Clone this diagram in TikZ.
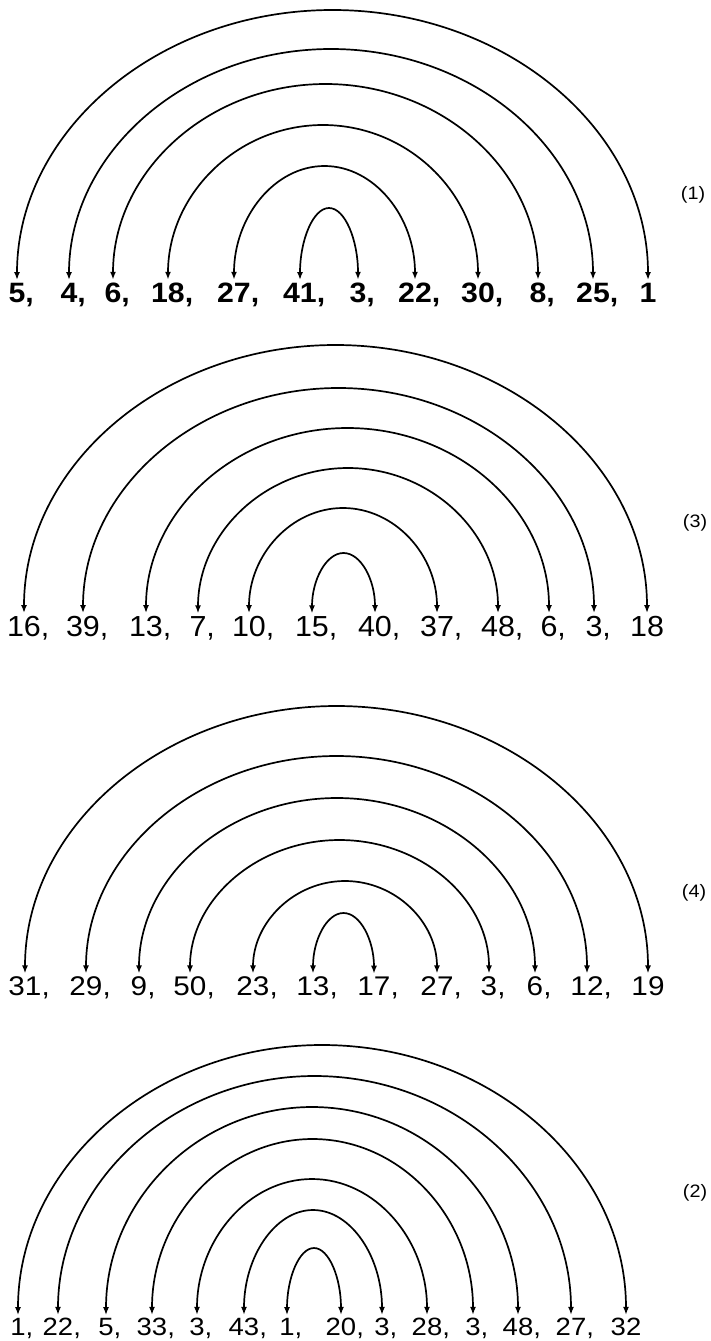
\documentclass[tikz,border=0pt]{standalone}
\usepackage{fontspec}
\setmainfont{Liberation Sans}
\usetikzlibrary{arrows.meta,calc}
\tikzset{
  arcline/.style={line width=1.7pt, {Latex[length=8pt,width=6pt]}-{Latex[length=8pt,width=6pt]}},
  numbase/.style={inner xsep=0pt, inner ysep=2.5pt, anchor=base},
  numA/.style={numbase, font=\fontsize{28}{28}\selectfont\bfseries, xscale=1.08},
  numB/.style={numbase, font=\fontsize{29}{29}\selectfont, xscale=1.05},
  numC/.style={numbase, font=\fontsize{27}{27}\selectfont, xscale=1.1},
  numD/.style={numbase, font=\fontsize{25}{25}\selectfont, xscale=1.1},
  lab/.style={inner sep=0pt, font=\fontsize{18}{18}\selectfont, xscale=1.1}
}
\newcommand{\archto}[3]{%
  \draw[arcline] let \p1=(#1.north), \p2=(#2.north),
    \n1={0.5523*(\x2-\x1)/2}, \n2={0.5523*(-#3pt-\y1)} in
    (\p1) .. controls +(0pt,\n2) and +({-\n1},0pt) .. ({(\x1+\x2)/2},{-#3 pt})
    .. controls +(\n1,0pt) and +(0pt,\n2) .. (\p2);}
\begin{document}
\begin{tikzpicture}[x=1pt,y=-1pt]
\fill[white] (0,0) rectangle (711,1341);
\useasboundingbox (0,0) rectangle (711,1341);
% panel (1)
\foreach \n/\x/\t in {1/17/5,2/69/4,3/113/6,4/168/18,5/234/27,6/300/41,7/358/3,8/415/22,9/478/30,10/538/8,11/593/25}
  \node[numA] (a\n) at (\x,302) {\t\rlap{,}};
\node[numA] (a12) at (648,302) {1};
\archto{a1}{a12}{10}
\archto{a2}{a11}{49}
\archto{a3}{a10}{84}
\archto{a4}{a9}{125}
\archto{a5}{a8}{166}
\archto{a6}{a7}{208}
\node[lab] (l1) at (693,195) {(1)};
% panel (3)
\foreach \n/\x/\t in {1/24/16,2/83/39,3/146/13,4/198/7,5/249/10,6/312/15,7/375/40,8/437/37,9/498/48,10/549/6,11/594/3}
  \node[numB] (b\n) at (\x,636) {\t\rlap{,}};
\node[numB] (b12) at (647,636) {18};
\archto{b1}{b12}{345}
\archto{b2}{b11}{388}
\archto{b3}{b10}{428}
\archto{b4}{b9}{468}
\archto{b5}{b8}{508}
\archto{b6}{b7}{553}
\node[lab] (l3) at (695,523) {(3)};
% panel (4)
\foreach \n/\x/\t in {1/25/31,2/86/29,3/139/9,4/190/50,5/253/23,6/313/13,7/374/17,8/437/27,9/489/3,10/535/6,11/587/12}
  \node[numC] (c\n) at (\x,995) {\t\rlap{,}};
\node[numC] (c12) at (648,995) {19};
\archto{c1}{c12}{706}
\archto{c2}{c11}{756}
\archto{c3}{c10}{798}
\archto{c4}{c9}{840}
\archto{c5}{c8}{881}
\archto{c6}{c7}{913}
\node[lab] (l4) at (694,893) {(4)};
% panel (2)
\foreach \n/\x/\t in {1/18/1,2/58/22,3/106/5,4/152/33,5/197/3,6/244/43,7/287/1,8/341/20,9/382/3,10/427/28,11/473/3,12/518/48,13/571/27}
  \node[numD] (d\n) at (\x,1335) {\t\rlap{,}};
\node[numD] (d14) at (626,1335) {32};
\archto{d1}{d14}{1045}
\archto{d2}{d13}{1076}
\archto{d3}{d12}{1107}
\archto{d4}{d11}{1139}
\archto{d5}{d10}{1179}
\archto{d6}{d9}{1210}
\archto{d7}{d8}{1248}
\node[lab] (l2) at (695,1193) {(2)};
\end{tikzpicture}
\end{document}
